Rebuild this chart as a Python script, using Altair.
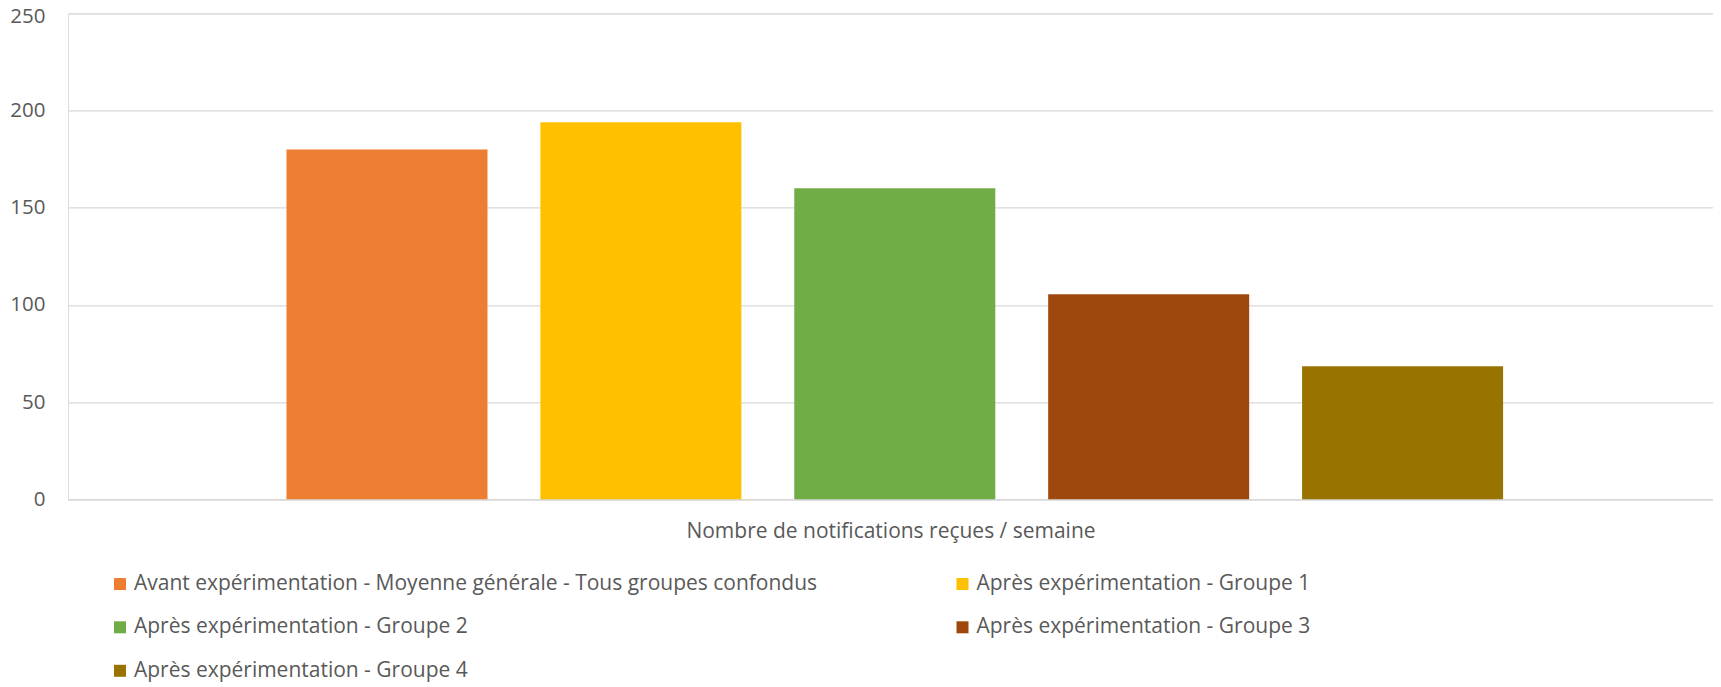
import altair as alt
import pandas as pd

series = [
    "Avant expérimentation - Moyenne générale - Tous groupes confondus",
    "Après expérimentation - Groupe 1",
    "Après expérimentation - Groupe 2",
    "Après expérimentation - Groupe 3",
    "Après expérimentation - Groupe 4",
]
values = [180, 194, 160, 105.5, 68.5]
colors = ["#ED7D31", "#FFC000", "#70AD47", "#9E480E", "#997300"]
y_ticks = [0, 50, 100, 150, 200, 250]
x_title = "Nombre de notifications reçues / semaine"

df = pd.DataFrame({"serie": series, "valeur": values})

# legend grid is filled column by column: reorder so it reads row by row
legend_order = [series[0], series[2], series[4], series[1], series[3]]
legend_colors = [colors[series.index(s)] for s in legend_order]

FONT = "Open Sans"
TXT = "#595959"
GRID = "#d9d9d9"

chart = (
    alt.Chart(df)
    .mark_bar()
    .encode(
        x=alt.X(
            "serie:N",
            sort=series,
            scale=alt.Scale(paddingInner=0.2083, paddingOuter=0.8436, align=0.51, round=False),
            axis=alt.Axis(
                title=x_title,
                labels=False,
                ticks=False,
                domain=True,
                domainColor=GRID,
                domainWidth=1.3,
                titleFont=FONT,
                titleFontSize=21,
                titleFontWeight="normal",
                titleColor=TXT,
                titlePadding=21,
            ),
        ),
        y=alt.Y(
            "valeur:Q",
            scale=alt.Scale(domain=[0, 250], nice=False),
            axis=alt.Axis(
                title=None,
                values=y_ticks,
                grid=True,
                gridColor=GRID,
                gridWidth=1.3,
                domain=False,
                ticks=False,
                labelFont=FONT,
                labelFontSize=20.5,
                labelColor=TXT,
                labelPadding=23,
                labelOffset={"condition": {"test": "datum.value == 250", "value": 3.5}, "value": 0},
            ),
        ),
        color=alt.Color(
            "serie:N",
            scale=alt.Scale(domain=legend_order, range=legend_colors),
            legend=alt.Legend(
                title=None,
                orient="none",
                legendX=41.5,
                legendY=560,
                columns=2,
                symbolType="square",
                symbolSize=144,
                symbolStrokeWidth=0,
                labelFont=FONT,
                labelFontSize=21,
                labelColor=TXT,
                labelLimit=0,
                labelOffset=3.5,
                columnPadding=133.5,
                rowPadding=21.5,
                padding=0,
            ),
        ),
    )
    .properties(
        width=1645,
        height=486,
        padding={"left": 60, "top": 5.3, "right": 0, "bottom": 190},
        autosize=alt.AutoSizeParams(type="none"),
    )
    .configure_view(stroke=None)
    .configure(background="white")
)

chart.save("out.html", embed_options={"renderer": "svg", "actions": False})
